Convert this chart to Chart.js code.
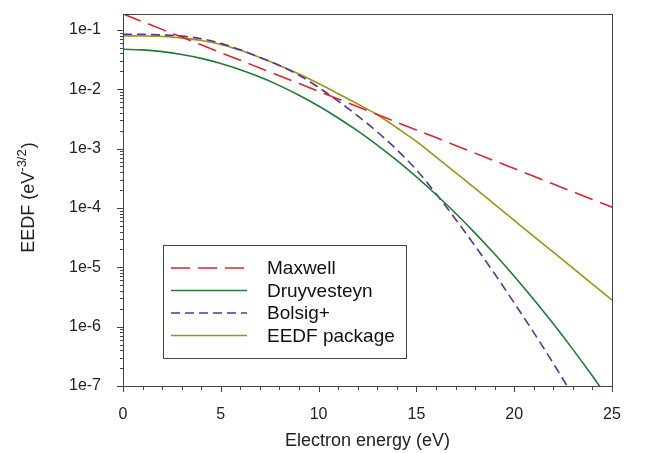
<!DOCTYPE html>
<html>
<head>
<meta charset="utf-8">
<script src="https://cdn.jsdelivr.net/npm/chart.js@4.4.1/dist/chart.umd.min.js"></script>
<style>
  html, body { margin: 0; padding: 0; background: #fff; }
  #wrap { width: 651px; height: 453px; }
</style>
</head>
<body>
<div id="wrap"><canvas id="eedf_chart" width="651" height="453"></canvas></div>
<script>
// energy grid (eV), every 1 eV
const energy = [0, 1, 2, 3, 4, 5, 6, 7, 8, 9, 10, 11, 12, 13, 14, 15, 16, 17, 18, 19, 20, 21, 22, 23, 24, 25];

const maxwell = [0.1856, 0.1375, 0.1019, 0.0755, 0.0559, 0.0414, 0.0307, 0.0227, 0.0168, 0.01248,
    0.00924, 0.00685, 0.00507, 0.00376, 0.00278, 0.00206, 0.00153, 0.00113, 8.38e-4, 6.21e-4,
    4.60e-4, 3.41e-4, 2.52e-4, 1.87e-4, 1.39e-4, 1.03e-4];

const druyvesteyn = [0.047, 0.04598, 0.04304, 0.03856, 0.03306, 0.02712, 0.02129, 0.01599, 0.0115, 0.00791,
    0.00521, 0.00328, 0.00198, 0.001141, 6.30e-4, 3.33e-4, 1.684e-4, 8.15e-5, 3.77e-5, 1.671e-5,
    7.08e-6, 2.87e-6, 1.115e-6, 4.14e-7, 1.474e-7, 5.0e-8];

const bolsig = [0.0845, 0.0839, 0.0820, 0.0785, 0.0708, 0.0592, 0.0462, 0.0343, 0.0251, 0.0172,
    0.01072, 0.00631, 0.00355, 0.00191, 9.55e-4, 4.37e-4, 1.74e-4, 6.46e-5, 2.29e-5, 7.76e-6,
    2.51e-6, 7.94e-7, 2.40e-7, 6.92e-8];

const eedfPackage = [0.0794, 0.0789, 0.0773, 0.0733, 0.0661, 0.0569, 0.0452, 0.0343, 0.0251, 0.0180,
    0.01245, 0.00841, 0.00562, 0.00372, 0.00224, 0.00132, 7.24e-4, 3.94e-4, 2.14e-4, 1.15e-4,
    6.17e-5, 3.31e-5, 1.80e-5, 9.66e-6, 5.19e-6, 2.82e-6];

const yMajorTicks = [1e-7, 1e-6, 1e-5, 1e-4, 1e-3, 1e-2, 1e-1];
const xMajorTicks = [0, 5, 10, 15, 20, 25];

const seriesNames = ["Maxwell", "Druyvesteyn", "Bolsig+", "EEDF package"];

function toPoints(values) {
    return values.map((v, i) => ({ x: energy[i], y: v }));
}

const AREA = { left: 123, top: 14, right: 612, bottom: 386 };
const W = 651, H = 453;

// frame, minor ticks, y title with superscript, legend box
const decorPlugin = {
    id: "decor",
    afterDraw(chart) {
        const ctx = chart.ctx;
        const ca = chart.chartArea;
        const xs = chart.scales.x;
        const ys = chart.scales.y;
        ctx.save();
        ctx.strokeStyle = "#444";
        ctx.lineWidth = 1;
        ctx.strokeRect(Math.round(ca.left) + 0.5, Math.round(ca.top) + 0.5,
            Math.round(ca.right - ca.left), Math.round(ca.bottom - ca.top));

        // x ticks, every 1 eV
        ctx.beginPath();
        for (let e = 0; e <= 25; e++) {
            const px = Math.round(xs.getPixelForValue(e)) + 0.5;
            const len = (e % 5 === 0) ? 6 : 4;
            ctx.moveTo(px, ca.bottom);
            ctx.lineTo(px, ca.bottom + len);
        }
        // y ticks, log minor
        for (let p = -7; p <= -1; p++) {
            for (let m = 1; m <= 9; m++) {
                const v = m * Math.pow(10, p);
                if (v > ys.max || v < ys.min) continue;
                const py = Math.round(ys.getPixelForValue(v)) + 0.5;
                const len = (m === 1) ? 6 : 3;
                ctx.moveTo(ca.left, py);
                ctx.lineTo(ca.left - len, py);
            }
        }
        ctx.stroke();

        // y axis title
        ctx.fillStyle = "#222";
        ctx.translate(29, 198);
        ctx.rotate(-Math.PI / 2);
        ctx.textBaseline = "middle";
        const main = "EEDF (eV";
        const sup = "-3/2";
        const close = ")";
        ctx.font = "18px 'Liberation Sans', Arial, sans-serif";
        const w1 = ctx.measureText(main).width;
        const w3 = ctx.measureText(close).width;
        ctx.font = "13px 'Liberation Sans', Arial, sans-serif";
        const w2 = ctx.measureText(sup).width;
        let x0 = -(w1 + w2 + w3) / 2;
        ctx.font = "18px 'Liberation Sans', Arial, sans-serif";
        ctx.textAlign = "left";
        ctx.fillText(main, x0, 0);
        ctx.font = "13px 'Liberation Sans', Arial, sans-serif";
        ctx.fillText(sup, x0 + w1, -7);
        ctx.font = "18px 'Liberation Sans', Arial, sans-serif";
        ctx.fillText(close, x0 + w1 + w2 + 1, 0);
        ctx.restore();

        // legend
        ctx.save();
        const lx = 163, ly = 245, lw = 243, lh = 113;
        ctx.fillStyle = "#fff";
        ctx.fillRect(lx, ly, lw, lh);
        ctx.strokeStyle = "#444";
        ctx.lineWidth = 1;
        ctx.strokeRect(lx + 0.5, ly + 0.5, lw, lh);
        ctx.font = "19px 'Liberation Sans', Arial, sans-serif";
        ctx.textBaseline = "middle";
        ctx.textAlign = "left";
        chart.data.datasets.forEach((ds, i) => {
            const yy = ly + 23 + i * 22.5;
            ctx.beginPath();
            ctx.strokeStyle = ds.borderColor;
            ctx.lineWidth = ds.borderWidth;
            ctx.setLineDash(ds.borderDash || []);
            ctx.moveTo(171, yy);
            ctx.lineTo(247, yy);
            ctx.stroke();
            ctx.setLineDash([]);
            ctx.fillStyle = "#111";
            ctx.fillText(ds.label, 267, yy + 1);
        });
        ctx.restore();
    }
};

const lineStyle = {
    fill: false,
    pointRadius: 0,
    borderWidth: 1.6,
    cubicInterpolationMode: "monotone",
};

new Chart(document.getElementById("eedf_chart"), {
    type: "line",
    data: {
        datasets: [
            { ...lineStyle, label: seriesNames[0], data: toPoints(maxwell), borderColor: "#e3232c", borderDash: [19, 8] },
            { ...lineStyle, label: seriesNames[1], data: toPoints(druyvesteyn), borderColor: "#1f7d32" },
            { ...lineStyle, label: seriesNames[2], data: toPoints(bolsig), borderColor: "#58329a", borderDash: [9, 5] },
            { ...lineStyle, label: seriesNames[3], data: toPoints(eedfPackage), borderColor: "#9c9414" },
        ]
    },
    options: {
        responsive: false,
        animation: false,
        layout: { padding: { left: 0, top: AREA.top, right: W - AREA.right, bottom: 0 } },
        plugins: {
            legend: { display: false },
            tooltip: { enabled: false },
        },
        scales: {
            x: {
                type: "linear",
                min: 0,
                max: 25,
                afterBuildTicks: (scale) => { scale.ticks = xMajorTicks.map(v => ({ value: v })); },
                afterFit: (scale) => { scale.height = H - AREA.bottom; },
                grid: { display: false },
                border: { display: false },
                ticks: {
                    padding: 11,
                    color: "#222",
                    font: { family: "'Liberation Sans', Arial, sans-serif", size: 16 },
                    maxRotation: 0,
                },
                title: {
                    display: true,
                    text: "Electron energy (eV)",
                    color: "#222",
                    font: { family: "'Liberation Sans', Arial, sans-serif", size: 18 },
                    padding: { top: 0, bottom: 1 },
                }
            },
            y: {
                type: "logarithmic",
                min: 1e-7,
                max: 0.185,
                afterBuildTicks: (scale) => { scale.ticks = yMajorTicks.map(v => ({ value: v })); },
                afterFit: (scale) => {
                    scale.width = AREA.left;
                    scale.paddingTop = 0;
                    scale.paddingBottom = 0;
                },
                grid: { display: false },
                border: { display: false },
                ticks: {
                    padding: 14,
                    color: "#222",
                    font: { family: "'Liberation Sans', Arial, sans-serif", size: 16 },
                    callback: (v) => "1e" + Math.round(Math.log10(v)),
                }
            }
        }
    },
    plugins: [decorPlugin]
});
</script>
</body>
</html>
